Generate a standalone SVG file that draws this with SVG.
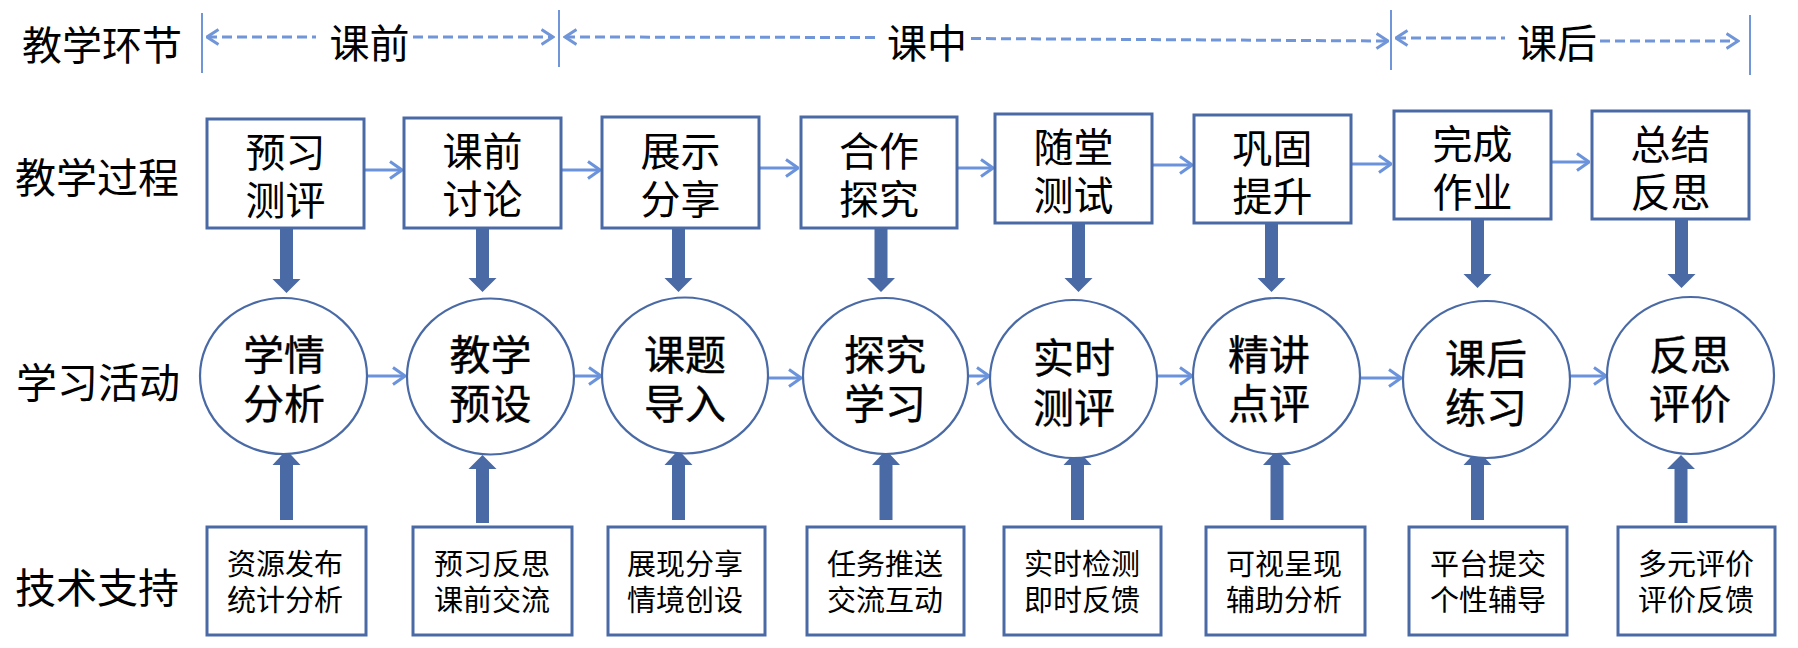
<svg xmlns="http://www.w3.org/2000/svg" width="1798" height="648" viewBox="0 0 1798 648">
<style>
text{font-family:"Noto Sans CJK SC","Microsoft YaHei",sans-serif;fill:#000;dominant-baseline:central;text-anchor:middle}
.lbl{font-size:41px;text-anchor:start}
.sec{font-size:40px}
.bt{font-size:40px}
.ct{font-size:41px;stroke:#000;stroke-width:0.4}
.tt{font-size:29px}
.box{fill:#fff;stroke:#4a6aa6;stroke-width:3}
.circ{fill:#fff;stroke:#4a6aa6;stroke-width:2.2}
.vl{stroke:#7096d9;stroke-width:2}
.dash{stroke:#7096d9;stroke-width:3;stroke-dasharray:10 5;fill:none}
.flow{stroke:#6b93dc;stroke-width:3;fill:none;marker-end:url(#ah)}
.thick{fill:#4a6aa6}
</style>
<defs>
<marker id="ah" markerUnits="userSpaceOnUse" viewBox="0 0 14 20" refX="13" refY="10" markerWidth="14" markerHeight="20" orient="auto">
<path d="M1,1.5 L13,10 L1,18.5" fill="none" stroke="#6b93dc" stroke-width="3"/>
</marker>
<marker id="dh" markerUnits="userSpaceOnUse" viewBox="0 0 14 18" refX="12.5" refY="9" markerWidth="14" markerHeight="18" orient="auto-start-reverse">
<path d="M1,1.5 L12.5,9 L1,16.5" fill="none" stroke="#7096d9" stroke-width="3"/>
</marker>
</defs>

<g id="row-labels">
<text class="lbl" x="22" y="43" style="font-size:40px">教学环节</text>
<text class="lbl" x="15" y="175">教学过程</text>
<text class="lbl" x="16" y="380">学习活动</text>
<text class="lbl" x="15" y="585">技术支持</text>
</g>

<g id="phases">
<line class="vl" x1="202" y1="13" x2="202" y2="73"/>
<line class="vl" x1="559" y1="10" x2="559" y2="67"/>
<line class="vl" x1="1391" y1="10" x2="1391" y2="70"/>
<line class="vl" x1="1750" y1="15" x2="1750" y2="75"/>
<line class="dash" x1="207" y1="37" x2="316" y2="37" marker-start="url(#dh)"/>
<text class="sec" x="369.5" y="41">课前</text>
<line class="dash" x1="413" y1="37" x2="553" y2="37" marker-end="url(#dh)"/>
<line class="dash" x1="565" y1="37" x2="880" y2="37.5" marker-start="url(#dh)"/>
<text class="sec" x="927" y="41">课中</text>
<line class="dash" x1="971" y1="38.5" x2="1388" y2="41" marker-end="url(#dh)"/>
<line class="dash" x1="1396" y1="38" x2="1505" y2="38" marker-start="url(#dh)"/>
<text class="sec" x="1557" y="41">课后</text>
<line class="dash" x1="1600" y1="41" x2="1738" y2="41" marker-end="url(#dh)"/>
</g>

<g id="connectors">
<line class="flow" x1="364" y1="170" x2="402" y2="170"/>
<line class="flow" x1="561" y1="170" x2="600" y2="170"/>
<line class="flow" x1="759" y1="168" x2="798" y2="168"/>
<line class="flow" x1="957" y1="168" x2="993" y2="168"/>
<line class="flow" x1="1152" y1="165" x2="1192" y2="165"/>
<line class="flow" x1="1351" y1="164" x2="1391" y2="164"/>
<line class="flow" x1="1551" y1="162" x2="1589" y2="162"/>

<line class="flow" x1="367" y1="376" x2="405" y2="376"/>
<line class="flow" x1="574" y1="376" x2="601" y2="376"/>
<line class="flow" x1="768" y1="378" x2="801" y2="378"/>
<line class="flow" x1="968" y1="376" x2="989" y2="376"/>
<line class="flow" x1="1157" y1="376" x2="1192" y2="376"/>
<line class="flow" x1="1360" y1="378" x2="1401" y2="378"/>
<line class="flow" x1="1570" y1="376" x2="1606" y2="376"/>

<path class="thick" d="M280,228 H293 V279 H300.5 L286.5,293 L272.5,279 H280 Z"/>
<path class="thick" d="M476,228 H489 V278 H496.5 L482.5,292 L468.5,278 H476 Z"/>
<path class="thick" d="M672,228 H685 V278 H692.5 L678.5,292 L664.5,278 H672 Z"/>
<path class="thick" d="M874.5,228 H887.5 V278 H895 L881,292 L867,278 H874.5 Z"/>
<path class="thick" d="M1072,223 H1085 V278 H1092.5 L1078.5,292 L1064.5,278 H1072 Z"/>
<path class="thick" d="M1265,223 H1278 V278 H1285.5 L1271.5,292 L1257.5,278 H1265 Z"/>
<path class="thick" d="M1471,219 H1484 V274 H1491.5 L1477.5,288 L1463.5,274 H1471 Z"/>
<path class="thick" d="M1675,219 H1688 V274 H1695.5 L1681.5,288 L1667.5,274 H1675 Z"/>

<path class="thick" d="M280,520 H293 V465 H300.5 L286.5,450 L272.5,465 H280 Z"/>
<path class="thick" d="M476,523 H489 V469 H496.5 L482.5,455 L468.5,469 H476 Z"/>
<path class="thick" d="M672,520 H685 V465 H692.5 L678.5,450 L664.5,465 H672 Z"/>
<path class="thick" d="M879.5,520 H892.5 V465 H900 L886,450 L872,465 H879.5 Z"/>
<path class="thick" d="M1071,520 H1084 V465 H1091.5 L1077.5,450 L1063.5,465 H1071 Z"/>
<path class="thick" d="M1270.5,520 H1283.5 V465 H1291 L1277,450 L1263,465 H1270.5 Z"/>
<path class="thick" d="M1471,520 H1484 V465 H1491.5 L1477.5,450 L1463.5,465 H1471 Z"/>
<path class="thick" d="M1674.5,523 H1687.5 V469 H1695 L1681,455 L1667,469 H1674.5 Z"/>
</g>

<g id="p1"><rect class="box" x="207" y="119" width="157" height="109"/><text class="bt" x="285.5" y="150">预习</text><text class="bt" x="285.5" y="198">测评</text></g>
<g id="p2"><rect class="box" x="404" y="118" width="157" height="110"/><text class="bt" x="482.5" y="149">课前</text><text class="bt" x="482.5" y="197">讨论</text></g>
<g id="p3"><rect class="box" x="602" y="117" width="157" height="111"/><text class="bt" x="680.5" y="149">展示</text><text class="bt" x="680.5" y="197">分享</text></g>
<g id="p4"><rect class="box" x="801" y="117" width="156" height="111"/><text class="bt" x="879" y="149">合作</text><text class="bt" x="879" y="197">探究</text></g>
<g id="p5"><rect class="box" x="995" y="114" width="157" height="109"/><text class="bt" x="1073.5" y="145">随堂</text><text class="bt" x="1073.5" y="193">测试</text></g>
<g id="p6"><rect class="box" x="1194" y="115" width="157" height="108"/><text class="bt" x="1272.5" y="146">巩固</text><text class="bt" x="1272.5" y="194">提升</text></g>
<g id="p7"><rect class="box" x="1394" y="111" width="157" height="108"/><text class="bt" x="1472.5" y="142">完成</text><text class="bt" x="1472.5" y="190">作业</text></g>
<g id="p8"><rect class="box" x="1592" y="111" width="157" height="108"/><text class="bt" x="1670.5" y="142">总结</text><text class="bt" x="1670.5" y="190">反思</text></g>

<g id="a1"><ellipse class="circ" cx="283.5" cy="376" rx="83.5" ry="78"/><text class="ct" x="284" y="352">学情</text><text class="ct" x="284" y="401">分析</text></g>
<g id="a2"><ellipse class="circ" cx="490.5" cy="376.5" rx="83.5" ry="78"/><text class="ct" x="490.5" y="352">教学</text><text class="ct" x="490.5" y="401">预设</text></g>
<g id="a3"><ellipse class="circ" cx="685" cy="375.5" rx="83" ry="78"/><text class="ct" x="685" y="352">课题</text><text class="ct" x="685" y="401">导入</text></g>
<g id="a4"><ellipse class="circ" cx="885.5" cy="376" rx="82.5" ry="78"/><text class="ct" x="885" y="352">探究</text><text class="ct" x="885" y="401">学习</text></g>
<g id="a5"><ellipse class="circ" cx="1073.5" cy="379" rx="83.5" ry="79"/><text class="ct" x="1074" y="355">实时</text><text class="ct" x="1074" y="405">测评</text></g>
<g id="a6"><ellipse class="circ" cx="1276.5" cy="376" rx="83.5" ry="78"/><text class="ct" x="1269" y="352">精讲</text><text class="ct" x="1269" y="401">点评</text></g>
<g id="a7"><ellipse class="circ" cx="1486.5" cy="379.5" rx="83.5" ry="78.5"/><text class="ct" x="1486" y="356">课后</text><text class="ct" x="1486" y="405">练习</text></g>
<g id="a8"><ellipse class="circ" cx="1690.5" cy="375.5" rx="83.5" ry="78.5"/><text class="ct" x="1690" y="352">反思</text><text class="ct" x="1690" y="401">评价</text></g>

<g id="t1"><rect class="box" x="207" y="527" width="159" height="108"/><text class="tt" x="285" y="562">资源发布</text><text class="tt" x="285" y="598">统计分析</text></g>
<g id="t2"><rect class="box" x="413" y="527" width="159" height="108"/><text class="tt" x="492" y="562">预习反思</text><text class="tt" x="492" y="598">课前交流</text></g>
<g id="t3"><rect class="box" x="608" y="527" width="157" height="108"/><text class="tt" x="685" y="562">展现分享</text><text class="tt" x="685" y="598">情境创设</text></g>
<g id="t4"><rect class="box" x="807" y="527" width="157" height="108"/><text class="tt" x="885" y="562">任务推送</text><text class="tt" x="885" y="598">交流互动</text></g>
<g id="t5"><rect class="box" x="1004" y="527" width="157" height="108"/><text class="tt" x="1082" y="562">实时检测</text><text class="tt" x="1082" y="598">即时反馈</text></g>
<g id="t6"><rect class="box" x="1206" y="527" width="159" height="108"/><text class="tt" x="1284" y="562">可视呈现</text><text class="tt" x="1284" y="598">辅助分析</text></g>
<g id="t7"><rect class="box" x="1409" y="527" width="158" height="108"/><text class="tt" x="1488" y="562">平台提交</text><text class="tt" x="1488" y="598">个性辅导</text></g>
<g id="t8"><rect class="box" x="1618" y="527" width="157" height="108"/><text class="tt" x="1696" y="562">多元评价</text><text class="tt" x="1696" y="598">评价反馈</text></g>
</svg>
